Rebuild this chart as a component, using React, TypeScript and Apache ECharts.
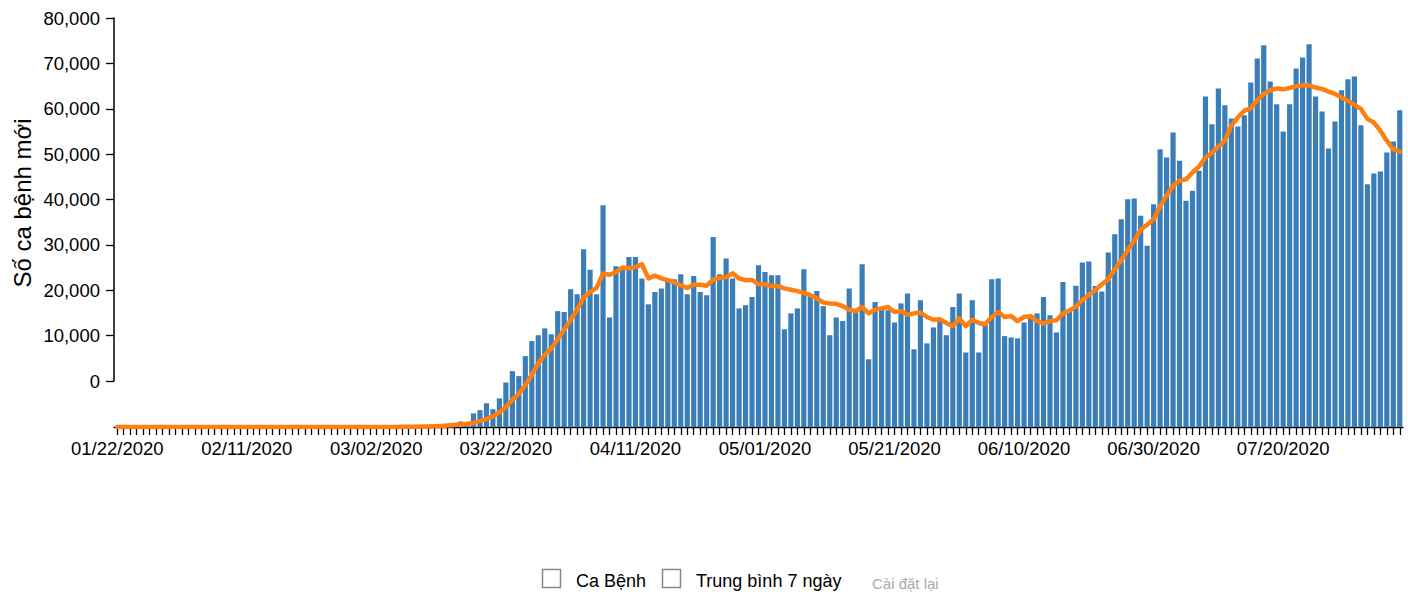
import React, { useEffect, useRef } from "react";
import * as echarts from "echarts";

// Daily new cases (bar heights above the baseline), one per day from 01/22/2020
const newCases: number[] = [
  0, 0, 0, 0, 0, 0, 0, 0, 0, 0,
  0, 0, 0, 0, 0, 0, 0, 0, 0, 0,
  0, 0, 0, 0, 0, 0, 0, 0, 0, 0,
  0, 0, 0, 0, 0, 0, 0, 0, 0, 10,
  20, 30, 40, 60, 80, 100, 130, 180, 290, 420,
  500, 650, 700, 1200, 600, 3000, 3700, 5200, 3900, 6300,
  9800, 12300, 11200, 15600, 18900, 20200, 21700, 20400, 25500, 25300,
  30300, 29200, 39100, 34600, 29200, 48800, 24100, 35400, 34700, 37400,
  37400, 32700, 27000, 29700, 30500, 32300, 32500, 33600, 29200, 33200,
  29700, 29000, 41800, 33600, 37100, 32700, 26100, 26800, 28600, 35600,
  34100, 33400, 33400, 21500, 25000, 26100, 34700, 29000, 29900, 26600,
  20200, 24100, 23300, 30500, 25300, 35800, 14900, 27500, 25900, 25700,
  23000, 27200, 29400, 17100, 27900, 18400, 21900, 23700, 20200, 26400,
  29400, 16400, 27900, 16400, 22800, 32500, 32700, 20000, 19700, 19500,
  23000, 24600, 25000, 28600, 24600, 20800, 31900, 25400, 31100, 36200,
  36400, 31000, 29800, 38400, 42400, 45700, 50100, 50300, 46500, 39900,
  49000, 61100, 59300, 64800, 58600, 49800, 52000, 56400, 72700, 66600,
  74500, 70800, 67900, 66100, 68600, 75800, 81100, 84000, 76000, 71000,
  65000, 71000, 78900, 81300, 84200, 72700, 69400, 61300, 67200, 74100,
  76500, 77100, 66400, 53400, 55800, 56200, 60400, 62800, 69700,
];

// 7-day average line
const avg7: number[] = [
  0, 0, 0, 0, 0, 0, 0, 0, 0, 0,
  0, 0, 0, 0, 0, 0, 0, 0, 0, 0,
  0, 0, 0, 0, 0, 0, 0, 0, 0, 0,
  0, 0, 0, 0, 0, 0, 0, 0, 0, 3,
  5, 10, 15, 20, 30, 40, 60, 90, 130, 180,
  240, 320, 420, 550, 700, 900, 1300, 1800, 2350, 3200,
  4400, 6000, 7300, 9200, 11500, 14000, 15900, 17300, 19300, 21400,
  23600, 25800, 28500, 29700, 30600, 33800, 33500, 34100, 35100, 34900,
  35200, 35800, 32700, 33300, 32700, 32300, 31800, 31200, 30600, 31300,
  31300, 31100, 32400, 32800, 33000, 33800, 32700, 32300, 32400, 31400,
  31400, 31000, 31000, 30500, 30200, 29900, 29500, 29000, 28300, 27400,
  27200, 27100, 26600, 25800, 25500, 26400, 25000, 25800, 26100, 26400,
  25300, 25500, 24700, 25000, 25200, 24200, 23600, 23700, 22900, 22200,
  23900, 22200, 23600, 22900, 22600, 24200, 25300, 24200, 24400, 23300,
  24200, 24400, 23300, 22800, 23300, 23500, 25000, 25600, 26500, 27900,
  29100, 30100, 31400, 32500, 34700, 36700, 38900, 41000, 43400, 44500,
  45700, 48600, 50900, 53100, 54200, 54500, 56000, 57300, 59300, 60300,
  61700, 63000, 66300, 68100, 69600, 70100, 71900, 73300, 74100, 74500,
  74300, 74600, 75000, 75200, 75200, 74700, 74400, 73800, 73300, 72500,
  71800, 70900, 70000, 67800, 67000, 65200, 63000, 61100, 60600,
];

const FIRST_DAY = { year: 2020, month: 1, day: 22 };
const yTickLabels: number[] = [0, 10000, 20000, 30000, 40000, 50000, 60000, 70000, 80000];
const yTitle = "Số ca bệnh mới";
const legendItems: string[] = ["Ca Bệnh", "Trung bình 7 ngày"];
const resetLabel = "Cài đặt lại";

const pad = (n: number) => (n < 10 ? "0" + n : "" + n);
const dates: string[] = newCases.map((_, i) => {
  const d = new Date(Date.UTC(FIRST_DAY.year, FIRST_DAY.month - 1, FIRST_DAY.day + i));
  return `${pad(d.getUTCMonth() + 1)}/${pad(d.getUTCDate())}/${d.getUTCFullYear()}`;
});

const FONT = '"Liberation Sans", Arial, Helvetica, sans-serif';
const BAR = "#3a7eb9";
const ORANGE = "#ff7f0e";

const fmt = (v: number) => String(Math.round(v)).replace(/\B(?=(\d{3})+(?!\d))/g, ",");

export default function App() {
  const ref = useRef<HTMLDivElement>(null);
  useEffect(() => {
    document.body.style.margin = "0";
    if (!ref.current) return;
    const chart = echarts.init(ref.current, undefined, { renderer: "svg" });
    const option: any = {
      animation: false,
      textStyle: { fontFamily: FONT },
      grid: [
        { left: 114, right: 5, top: 18, height: 409 },
        { left: 114, width: 1, top: 18, height: 363 },
      ],
      xAxis: [
        {
          type: "category",
          gridIndex: 0,
          data: dates,
          boundaryGap: true,
          axisLine: { show: true, lineStyle: { color: "#000", width: 1.3 } },
          axisTick: { show: true, interval: 0, alignWithLabel: true, length: 8, lineStyle: { color: "#000", width: 1.3 } },
          axisLabel: { interval: 19, color: "#000", fontSize: 18.5, margin: 12, fontFamily: FONT },
          splitLine: { show: false },
        },
        { type: "value", gridIndex: 1, show: false, min: 0, max: 1 },
      ],
      yAxis: [
        { type: "value", gridIndex: 0, min: 0, max: 90000, show: false },
        {
          type: "value",
          gridIndex: 1,
          min: yTickLabels[0],
          max: yTickLabels[yTickLabels.length - 1],
          interval: yTickLabels[1] - yTickLabels[0],
          axisLine: { show: true, lineStyle: { color: "#000", width: 1.5 } },
          axisTick: { show: true, length: 8, lineStyle: { color: "#000", width: 1.3 } },
          axisLabel: { color: "#000", fontSize: 18.5, margin: 14, fontFamily: FONT, formatter: (v: number) => fmt(v) },
          splitLine: { show: false },
        },
      ],
      series: [
        {
          name: legendItems[0],
          type: "bar",
          xAxisIndex: 0,
          yAxisIndex: 0,
          data: newCases,
          itemStyle: { color: BAR },
          barCategoryGap: "20%",
        },
        {
          name: legendItems[1],
          type: "line",
          xAxisIndex: 0,
          yAxisIndex: 0,
          data: avg7,
          showSymbol: false,
          symbol: "none",
          lineStyle: { color: ORANGE, width: 4.5, join: "round", cap: "round" },
          z: 3,
        },
      ],
      graphic: [
        {
          type: "text",
          x: 22,
          y: 203,
          rotation: Math.PI / 2,
          style: { text: yTitle, fill: "#000", font: `24px ${FONT}`, align: "center", verticalAlign: "middle" },
        },
        { type: "rect", shape: { x: 542.5, y: 569.5, width: 18, height: 18 }, style: { fill: "#fff", stroke: "#888", lineWidth: 1.5 } },
        { type: "text", x: 576, y: 581, style: { text: legendItems[0], fill: "#000", font: `18px ${FONT}`, verticalAlign: "middle" } },
        { type: "rect", shape: { x: 662.5, y: 569.5, width: 18, height: 18 }, style: { fill: "#fff", stroke: "#888", lineWidth: 1.5 } },
        { type: "text", x: 696, y: 581, style: { text: legendItems[1], fill: "#000", font: `18px ${FONT}`, verticalAlign: "middle" } },
        { type: "text", x: 872, y: 583, style: { text: resetLabel, fill: "#aaa", font: `15px ${FONT}`, verticalAlign: "middle" } },
      ],
    };
    chart.setOption(option);
    return () => chart.dispose();
  }, []);
  return <div ref={ref} style={{ width: 1408, height: 592 }} />;
}
